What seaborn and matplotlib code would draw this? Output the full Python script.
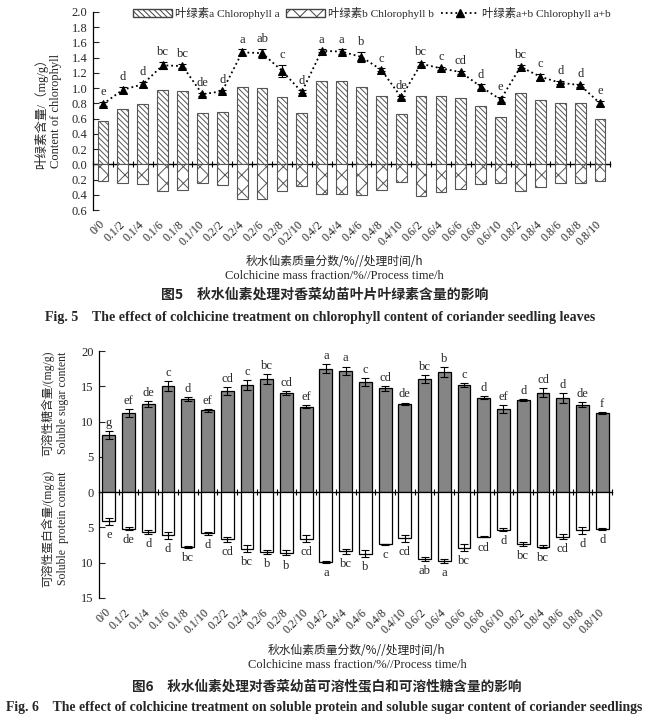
import numpy as np
import pandas as pd
import matplotlib
matplotlib.use("Agg")
import matplotlib.pyplot as plt
import seaborn as sns
from matplotlib.patches import Patch
from matplotlib.lines import Line2D

# treatment labels: colchicine mass fraction (%) / process time (h)
labels = ["0/0", "0.1/2", "0.1/4", "0.1/6", "0.1/8", "0.1/10",
          "0.2/2", "0.2/4", "0.2/6", "0.2/8", "0.2/10",
          "0.4/2", "0.4/4", "0.4/6", "0.4/8", "0.4/10",
          "0.6/2", "0.6/4", "0.6/6", "0.6/8", "0.6/10",
          "0.8/2", "0.8/4", "0.8/6", "0.8/8", "0.8/10"]

# Fig. 5 chlorophyll (mg/g)
chl_a = [0.57, 0.73, 0.79, 0.97, 0.96, 0.68, 0.69, 1.01, 1.00, 0.89, 0.67,
         1.10, 1.09, 1.02, 0.90, 0.66, 0.90, 0.90, 0.87, 0.76, 0.62,
         0.93, 0.85, 0.81, 0.80, 0.59]
chl_b = [0.22, 0.25, 0.26, 0.35, 0.34, 0.24, 0.27, 0.46, 0.45, 0.35, 0.28,
         0.39, 0.39, 0.40, 0.34, 0.23, 0.41, 0.36, 0.33, 0.26, 0.24,
         0.35, 0.30, 0.25, 0.24, 0.22]
chl_ab = [0.79, 0.98, 1.05, 1.30, 1.29, 0.92, 0.96, 1.47, 1.46, 1.23, 0.95,
          1.49, 1.48, 1.41, 1.24, 0.88, 1.32, 1.26, 1.21, 1.02, 0.85,
          1.28, 1.15, 1.07, 1.04, 0.80]
chl_ab_err = [0.03, 0.04, 0.03, 0.05, 0.03, 0.02, 0.02, 0.04, 0.06, 0.08, 0.02,
              0.02, 0.03, 0.07, 0.02, 0.02, 0.03, 0.02, 0.02, 0.03, 0.03,
              0.02, 0.04, 0.02, 0.02, 0.03]
chl_letters = ["e", "d", "d", "bc", "bc", "de", "d", "a", "ab", "c", "d",
               "a", "a", "b", "c", "de", "bc", "c", "cd", "d", "e",
               "bc", "c", "d", "d", "e"]

# Fig. 6 soluble sugar / soluble protein (mg/g)
sugar = [8.1, 11.2, 12.5, 15.1, 13.2, 11.6, 14.3, 15.2, 16.0, 14.0, 12.1,
         17.5, 17.2, 15.6, 14.7, 12.5, 16.0, 17.0, 15.2, 13.4, 11.8,
         13.1, 14.1, 13.4, 12.4, 11.2]
sugar_err = [0.5, 0.6, 0.4, 0.7, 0.3, 0.2, 0.6, 0.7, 0.7, 0.3, 0.2,
             0.6, 0.6, 0.6, 0.3, 0.2, 0.6, 0.7, 0.3, 0.2, 0.6,
             0.15, 0.6, 0.7, 0.4, 0.15]
sugar_letters = ["g", "ef", "de", "c", "d", "ef", "cd", "c", "bc", "cd", "ef",
                 "a", "a", "c", "cd", "de", "bc", "b", "c", "d", "ef",
                 "d", "cd", "d", "de", "f"]
protein = [4.1, 5.2, 5.65, 6.1, 7.75, 5.85, 6.65, 8.0, 8.5, 8.6, 6.6,
           9.85, 8.4, 8.7, 7.4, 6.55, 9.5, 9.75, 7.85, 6.3, 5.3,
           7.3, 7.75, 6.3, 5.4, 5.2]
protein_err = [0.5, 0.2, 0.3, 0.5, 0.1, 0.25, 0.35, 0.5, 0.3, 0.35, 0.5,
               0.15, 0.3, 0.5, 0.1, 0.5, 0.25, 0.3, 0.5, 0.1, 0.2,
               0.3, 0.2, 0.3, 0.5, 0.1]
protein_letters = ["e", "de", "d", "d", "bc", "d", "cd", "bc", "b", "b", "cd",
                   "a", "bc", "b", "c", "cd", "ab", "a", "bc", "cd", "d",
                   "bc", "bc", "cd", "d", "d"]

df5 = pd.DataFrame({"treat": labels, "a": chl_a, "b": chl_b, "ab": chl_ab})
df6 = pd.DataFrame({"treat": labels, "sugar": sugar, "protein": protein})
pos = np.arange(len(labels))

sns.set_theme(style="ticks", rc={"hatch.linewidth": 0.7, "hatch.color": "#2a2a2a"})
plt.rcParams["font.family"] = ["Liberation Serif", "Noto Sans CJK SC"]
plt.rcParams["font.size"] = 8
cjk = ["Noto Sans CJK SC", "Liberation Serif"]

fig = plt.figure(figsize=(6.48, 7.2), dpi=100)


def style_axis(ax, zero_frac, ticks, fmt):
    sns.despine(ax=ax, top=True, right=True, bottom=True)
    ax.set_xlim(-0.5, len(labels) - 0.5)
    ax.set_xlabel("")
    ax.set_ylabel("")
    ax.set_yticks(ticks)
    ax.set_yticklabels([fmt(abs(t)) for t in ticks], fontsize=9)
    ax.tick_params(axis="y", direction="in", length=4, width=0.8, pad=4)
    ax.spines["left"].set_linewidth(0.9)
    ax.spines["left"].set_color("black")
    ax.set_xticks(pos)
    ax.set_xticklabels(labels, rotation=45, ha="right", va="center",
                       rotation_mode="anchor", fontsize=8.5)
    ax.tick_params(axis="x", length=0, pad=9)
    # zero line with category dividers
    sec = ax.secondary_xaxis(zero_frac)
    sec.set_xticks(np.arange(-0.5, len(labels), 1.0))
    sec.set_xticklabels([])
    sec.tick_params(direction="inout", length=5, width=0.8, color="black")
    sec.spines["bottom"].set_linewidth(1.0)
    sec.spines["bottom"].set_color("black")


# ---------------- Fig. 5 ----------------
ax1 = fig.add_axes([93 / 648, 1 - 210 / 720, 517 / 648, 198 / 720])
sns.barplot(data=df5, x="treat", y="a", color="white", saturation=1,
            edgecolor="#555555", linewidth=0.8, width=0.54, ax=ax1)
n_a = len(ax1.patches)
sns.barplot(x=df5["treat"], y=-df5["b"], color="white", saturation=1,
            edgecolor="#555555", linewidth=0.8, width=0.54, ax=ax1)
for i, p in enumerate(ax1.patches):
    p.set_hatch("\\\\\\\\\\\\" if i < n_a else "xx")
sns.lineplot(x=pos, y=df5["ab"], color="black", linestyle=":", linewidth=1.3,
             marker="^", markersize=5.5, markeredgecolor="black", ax=ax1)
ax1.errorbar(pos, df5["ab"], yerr=chl_ab_err, fmt="none", ecolor="black",
             elinewidth=0.8, capsize=3, capthick=0.8)
for x, v, e, t in zip(pos, chl_ab, chl_ab_err, chl_letters):
    ax1.text(x, v + e + 0.05, t, ha="center", va="bottom", fontsize=9)
ax1.set_ylim(-0.6, 2.0)
style_axis(ax1, 0.6 / 2.6, np.round(np.arange(-0.6, 2.01, 0.2), 1),
           lambda t: f"{t:.1f}")

handles = [Patch(facecolor="white", edgecolor="#444444", hatch="\\\\\\\\\\\\"),
           Patch(facecolor="white", edgecolor="#444444", hatch="xx"),
           Line2D([], [], color="black", linestyle=":", linewidth=1.3,
                  marker="^", markersize=5.5)]
fig.legend(handles, ["叶绿素a Chlorophyll a", "叶绿素b Chlorophyll b",
                     "叶绿素a+b Chlorophyll a+b"],
           loc="center", bbox_to_anchor=(372 / 648, 1 - 13 / 720), ncol=3,
           frameon=False, fontsize=8.2, handlelength=3.4, handleheight=0.8,
           columnspacing=0.6, handletextpad=0.25)

fig.text(48 / 648, 1 - 111 / 720, "叶绿素含量/（mg/g）\nContent of chlorophyll",
         rotation=90, ha="center", va="center", fontsize=9, linespacing=1.3)
fig.text(334 / 648, 1 - 261 / 720, "秋水仙素质量分数/%//处理时间/h",
         ha="center", va="center", fontsize=8.5, family=cjk, color="#222222")
fig.text(334 / 648, 1 - 276 / 720, "Colchicine mass fraction/%//Process time/h",
         ha="center", va="center", fontsize=9)
fig.text(325 / 648, 1 - 295 / 720, "图5　秋水仙素处理对香菜幼苗叶片叶绿素含量的影响",
         ha="center", va="center", fontsize=10, family=cjk, weight="bold")
fig.text(320 / 648, 1 - 317 / 720,
         "Fig. 5    The effect of colchicine treatment on chlorophyll content of coriander seedling leaves",
         ha="center", va="center", fontsize=10, weight="bold")

# ---------------- Fig. 6 ----------------
ax2 = fig.add_axes([99 / 648, 1 - 598 / 720, 513 / 648, 247 / 720])
sns.barplot(data=df6, x="treat", y="sugar", color="#858585", saturation=1,
            edgecolor="black", linewidth=0.9, width=0.65, ax=ax2)
sns.barplot(x=df6["treat"], y=-df6["protein"], color="white", saturation=1,
            edgecolor="black", linewidth=0.9, width=0.65, ax=ax2)
ax2.errorbar(pos, df6["sugar"], yerr=sugar_err, fmt="none", ecolor="black",
             elinewidth=0.8, capsize=3, capthick=0.8)
ax2.errorbar(pos, -df6["protein"], yerr=protein_err, fmt="none", ecolor="black",
             elinewidth=0.8, capsize=3, capthick=0.8)
for x, v, e, t in zip(pos, sugar, sugar_err, sugar_letters):
    ax2.text(x, v + e + 0.3, t, ha="center", va="bottom", fontsize=9)
for x, v, e, t in zip(pos, protein, protein_err, protein_letters):
    ax2.text(x, -(v + e + 0.6), t, ha="center", va="top", fontsize=9)
ax2.set_ylim(-15, 20)
style_axis(ax2, 15 / 35, np.arange(-15, 21, 5), lambda t: f"{int(t)}")

fig.text(55 / 648, 1 - 403 / 720, "可溶性糖含量/(mg/g)\nSoluble sugar content",
         rotation=90, ha="center", va="center", fontsize=8.5, linespacing=1.3)
fig.text(55 / 648, 1 - 528 / 720, "可溶性蛋白含量/(mg/g)\nSoluble  protein content",
         rotation=90, ha="center", va="center", fontsize=8.5, linespacing=1.3)
fig.text(357 / 648, 1 - 651 / 720, "秋水仙素质量分数/%//处理时间/h",
         ha="center", va="center", fontsize=8.5, family=cjk, color="#222222")
fig.text(357 / 648, 1 - 665 / 720, "Colchicine mass fraction/%//Process time/h",
         ha="center", va="center", fontsize=9)
fig.text(327 / 648, 1 - 686 / 720, "图6　秋水仙素处理对香菜幼苗可溶性蛋白和可溶性糖含量的影响",
         ha="center", va="center", fontsize=9.8, family=cjk, weight="bold")
fig.text(324 / 648, 1 - 707 / 720,
         "Fig. 6    The effect of colchicine treatment on soluble protein and soluble sugar content of coriander seedlings",
         ha="center", va="center", fontsize=9.9, weight="bold")

fig.savefig("out.png", dpi=100)
